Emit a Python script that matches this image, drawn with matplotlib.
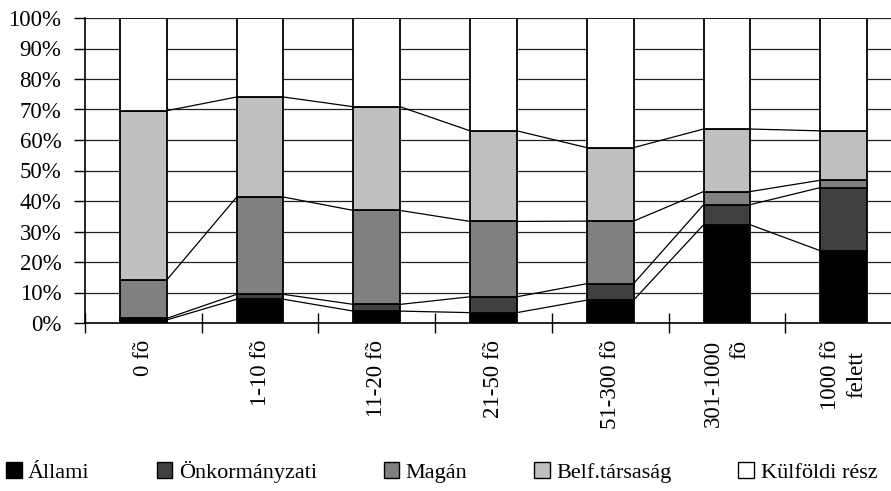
import matplotlib
matplotlib.use('Agg')
import matplotlib.pyplot as plt
import numpy as np
from matplotlib.patches import Patch
from matplotlib.ticker import FuncFormatter

categories = ['0 fõ', '1-10 fõ', '11-20 fõ', '21-50 fõ', '51-300 fõ',
              '301-1000\nfõ', '1000 fõ\nfelett']
series_names = ['Állami', 'Önkormányzati', 'Magán', 'Belf.társaság', 'Külföldi rész']
allami = [1.0, 7.8, 3.9, 3.4, 7.5, 32.2, 23.7]
onkormanyzati = [0.5, 1.6, 2.2, 5.2, 5.4, 6.6, 20.7]
magan = [12.6, 31.9, 30.8, 24.7, 20.5, 4.3, 2.4]
belf = [55.5, 32.8, 34.0, 29.7, 24.1, 20.5, 16.2]
kulfoldi = [30.4, 25.9, 29.1, 37.0, 42.5, 36.4, 37.0]
colors = ['#000000', '#404040', '#808080', '#C0C0C0', '#FFFFFF']

plt.rcParams['font.family'] = ['Liberation Serif', 'DejaVu Serif']

data = np.array([allami, onkormanyzati, magan, belf, kulfoldi], dtype=float)
data = data / data.sum(axis=0) * 100.0

fig = plt.figure(figsize=(8.91, 4.91), dpi=100)
ax = fig.add_axes([85/891, 1-323/491, (902-85)/891, (323-18)/491])

x = np.arange(len(categories))
w = 0.4
bottom = np.zeros(len(categories))
tops = []
for vals, col, name in zip(data, colors, series_names):
    ax.bar(x, vals, w, bottom=bottom, color=col, edgecolor='black',
           linewidth=1.3, label=name, zorder=3)
    bottom = bottom + vals
    tops.append(bottom.copy())

# series lines
for k in range(4):
    cum = tops[k]
    for i in range(len(categories) - 1):
        ax.plot([x[i] + w/2, x[i+1] - w/2], [cum[i], cum[i+1]],
                color='black', lw=0.9, zorder=2)

ax.set_xlim(-0.5, 6.5)
ax.set_ylim(0, 100)
ax.set_yticks(np.arange(0, 101, 10))
ax.yaxis.set_major_formatter(FuncFormatter(lambda v, p: f'{int(v)}%'))
ax.yaxis.grid(True, color='#222222', lw=0.9, zorder=1)
ax.set_axisbelow(True)

ax.set_xticks(np.arange(-0.5, 7.0, 1.0))
ax.set_xticklabels([])
ax.set_xticks(x, minor=True)
ax.set_xticklabels(categories, minor=True, rotation=90, va='top', ha='center',
                   fontsize=16.5, linespacing=1.35)
labels = ax.get_xticklabels(minor=True)
for i, lab in enumerate(labels):
    lab.set_multialignment('right' if i == 5 else 'center')
ax.tick_params(axis='x', which='major', direction='inout', length=15, width=1, color='black')
ax.tick_params(axis='x', which='minor', length=0, pad=12)
ax.tick_params(axis='y', which='major', direction='out', length=8, width=1,
               labelsize=16.5, pad=9)

for s in ['top', 'right']:
    ax.spines[s].set_visible(False)
ax.spines['left'].set_color('black')
ax.spines['bottom'].set_color('black')
ax.spines['left'].set_linewidth(1.2)
ax.spines['bottom'].set_linewidth(1.2)

handles = [Patch(facecolor=c, edgecolor='black', linewidth=1.0) for c in colors]
fig.legend(handles, series_names, loc='center left', bbox_to_anchor=(6/891, 1-472/491),
           ncol=5, frameon=False, handlelength=0.7, handleheight=0.7,
           handletextpad=0.3, columnspacing=3.0, borderaxespad=0, borderpad=0,
           prop={'size': 16})

fig.savefig('out.png', dpi=100)
